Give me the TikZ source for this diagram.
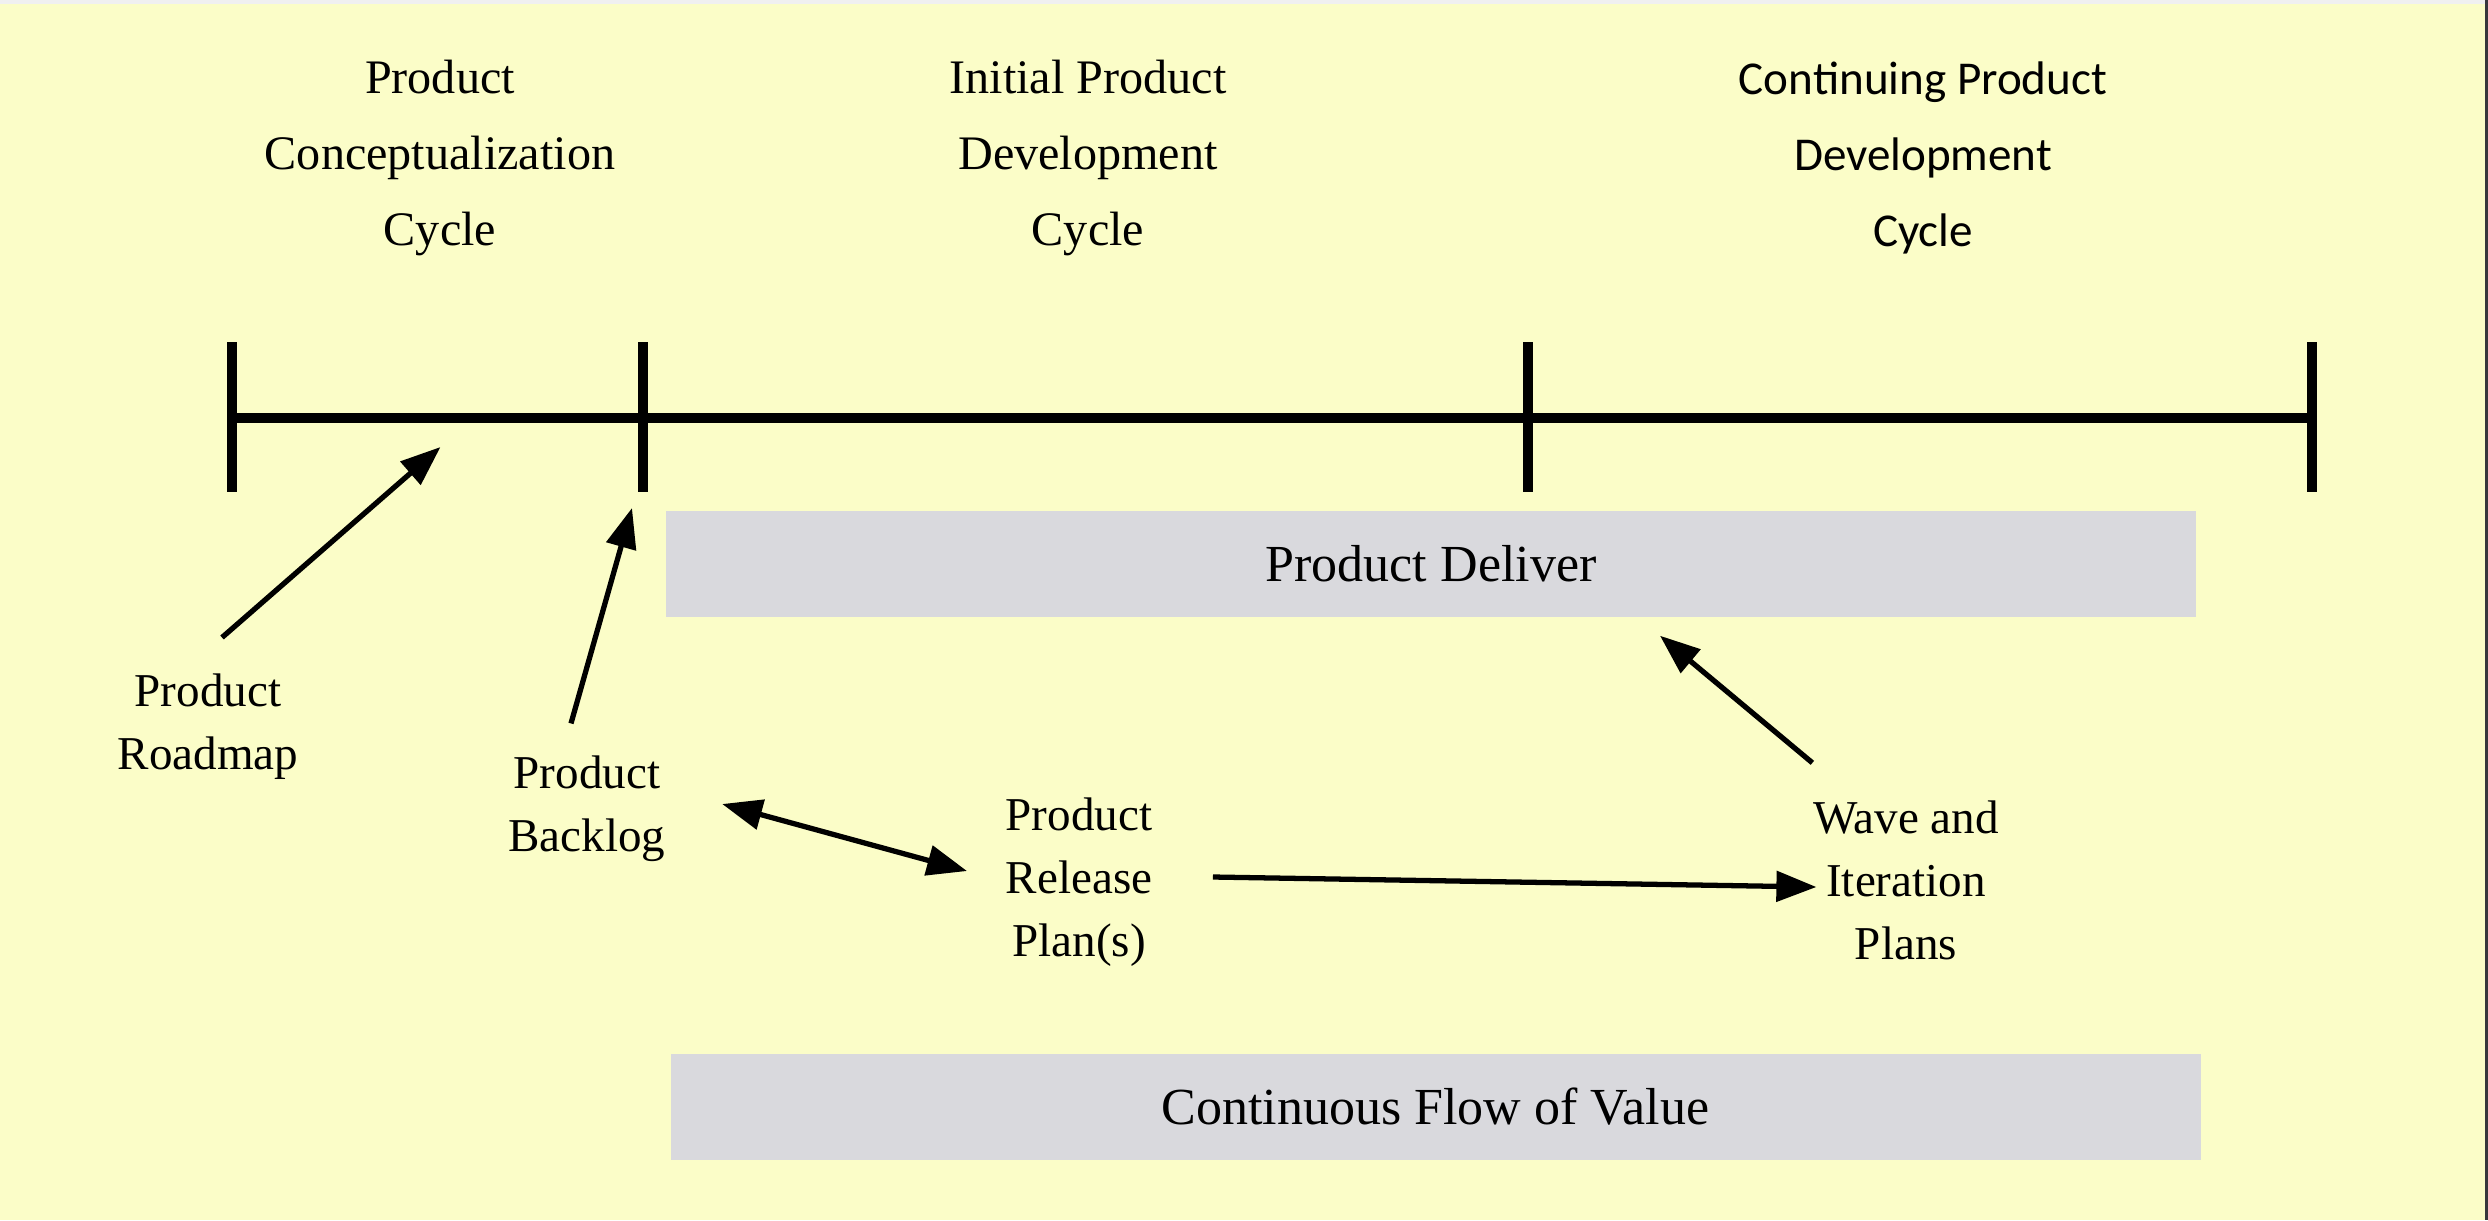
\documentclass[tikz,border=0pt]{standalone}
\usepackage{fontspec}
\setmainfont{Liberation Serif}
\newfontfamily\sansfont{Carlito}
\usetikzlibrary{arrows.meta,calc,positioning}
\definecolor{pagebg}{RGB}{251,253,200}
\definecolor{bandgray}{RGB}{217,217,221}
\definecolor{topstrip}{RGB}{240,240,240}
\definecolor{edgedark}{RGB}{55,55,60}
\tikzset{
  axis/.style={line width=0.1cm,black},
  tickmark/.style={line width=0.1cm,black},
  link/.style={line width=1.5pt,-{Triangle[length=0.4cm,width=0.3cm]}},
  twoway/.style={line width=1.5pt,{Triangle[length=0.4cm,width=0.3cm]}-{Triangle[length=0.4cm,width=0.3cm]}},
  band/.style={fill=bandgray,minimum width=15.3cm,minimum height=1.06cm,inner sep=0pt,font=\fontsize{14.8pt}{17pt}\selectfont},
  phase/.style={align=center,inner sep=0pt,font=\fontsize{13.7pt}{21.6pt}\selectfont},
  lbl/.style={align=center,inner sep=0pt,font=\fontsize{13.4pt}{17.9pt}\selectfont},
}
\begin{document}
\begin{tikzpicture}
    % ------------- page -------------
    \fill[pagebg] (0,0) rectangle (24.88,-12.2);
    \useasboundingbox (0,0) rectangle (24.88,-12.2);
    \fill[topstrip] (0,0) rectangle (24.85,-0.04);
    \fill[edgedark] (24.85,0) rectangle (24.88,-12.2);
    % ------------- timeline -------------
    \coordinate (t1) at (2.32,-4.18);
    \coordinate (t2) at (6.43,-4.18);
    \coordinate (t3) at (15.28,-4.18);
    \coordinate (t4) at (23.12,-4.18);
    \draw[axis] (t1) -- (t4);
    \foreach \t in {t1,t2,t3,t4}
      \draw[tickmark] ($(\t)+(0,0.76)$) -- ($(\t)+(0,-0.74)$);
    % phase titles
    \node[phase] (concept) at (4.40,-1.58) {Product\\Conceptualization\\Cycle};
    \node[phase] (initial) at (10.88,-1.58) {Initial Product\\Development\\Cycle};
    \node[phase,font=\sansfont\fontsize{13.4pt}{21.6pt}\selectfont] (continuing) at (19.23,-1.58)
      {Continuing Product\\Development\\Cycle};
    % ------------- bands -------------
    \node[band] (deliver) at (14.31,-5.64) {Product Deliver};
    \node[band] (flow) at (14.355,-11.07) {Continuous Flow of Value};
    % ------------- artefacts -------------
    \node[lbl] (roadmap) at (2.08,-7.27) {Product\\Roadmap};
    \node[lbl] (backlog) at (5.87,-8.09) {Product\\Backlog};
    \node[lbl] (release) at (10.79,-8.82) {Product\\Release\\Plan(s)};
    \node[lbl] (wave) at (19.06,-8.80) {Wave and\\Iteration\\Plans};
    % arrow tips on the timeline
    \coordinate (rm-tip) at ($(t1)!0.5!(t2)+(0.03,-0.29)$);
    \coordinate (bl-tip) at ($(t2)+(-0.11,-0.90)$);
    \draw[link] ([xshift=0.14cm,yshift=0.36cm]roadmap.north) -- (rm-tip);
    \draw[link] ([xshift=-0.16cm,yshift=0.32cm]backlog.north) -- (bl-tip);
    \draw[twoway] ([xshift=0.56cm,yshift=0.05cm]backlog.east) -- ([xshift=-0.38cm,yshift=0.11cm]release.west);
    \draw[link] ([xshift=0.60cm,yshift=0.05cm]release.east) -- ([xshift=0.04cm,yshift=-0.07cm]wave.west);
    \draw[link] ([yshift=0.37cm]wave.north west) -- ([xshift=2.29cm,yshift=-0.18cm]deliver.south);
\end{tikzpicture}
\end{document}
